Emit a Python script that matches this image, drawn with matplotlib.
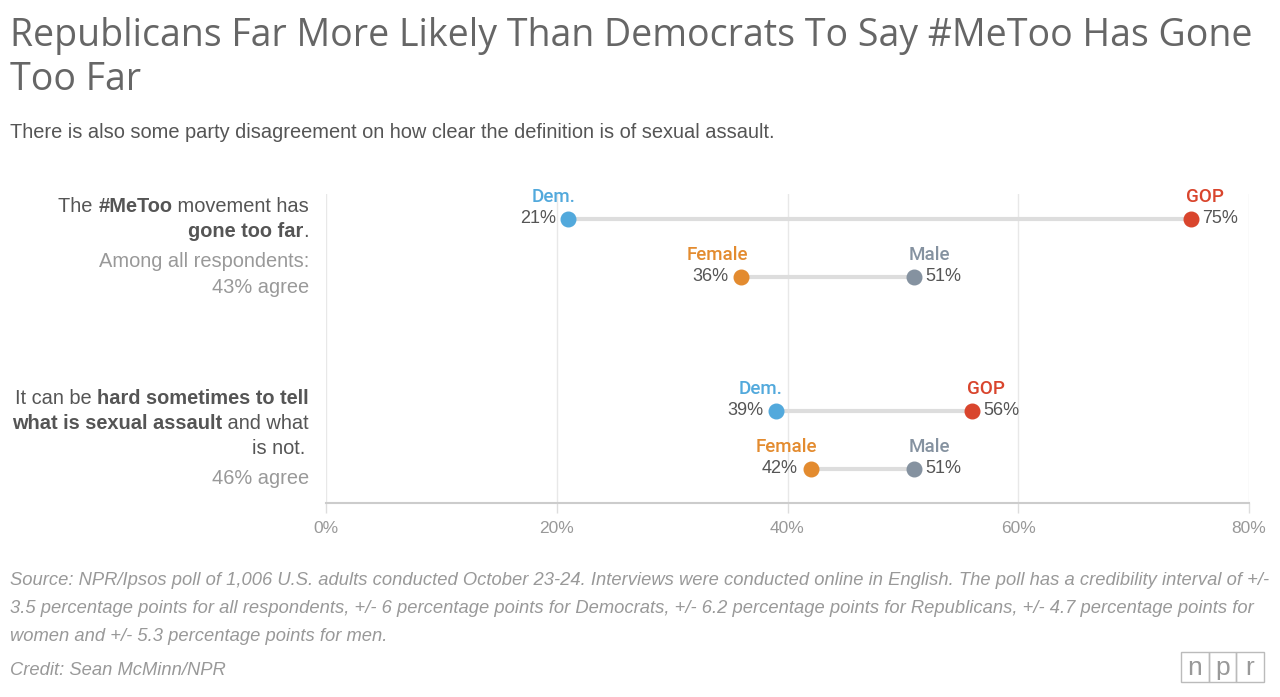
import numpy as np
import matplotlib.pyplot as plt
from matplotlib.patches import Rectangle

# data
row_names = ["Dem./GOP (gone too far)", "Female/Male (gone too far)",
             "Dem./GOP (hard to tell)", "Female/Male (hard to tell)"]
row_pos = [0, 1, 3.31, 4.31]
left_labels = ["Dem.", "Female", "Dem.", "Female"]
right_labels = ["GOP", "Male", "GOP", "Male"]
left_values = [21, 36, 39, 42]
right_values = [75, 51, 56, 51]
left_colors = ["#52a9dc", "#e38b2f", "#52a9dc", "#e38b2f"]
right_colors = ["#d9452d", "#8592a0", "#d9452d", "#8592a0"]
xticks = [0, 20, 40, 60, 80]

W, H = 1280, 697
fig = plt.figure(figsize=(W / 100, H / 100), dpi=100)
fig.patch.set_facecolor("white")

def fx(x):
    return x / W

def fy(y):
    return 1 - y / H

ax = fig.add_axes([fx(326), fy(503), fx(1249) - fx(326), fy(194) - fy(503)])
ax.set_xlim(0, 80)
ax.set_ylim(4.9, -0.43)
for s in ["top", "right", "left"]:
    ax.spines[s].set_visible(False)
ax.spines["bottom"].set_color("#cccccc")
ax.spines["bottom"].set_linewidth(1.5)
ax.set_yticks([])
ax.set_xticks(xticks)
ax.set_xticklabels([f"{t}%" for t in xticks])
ax.tick_params(axis="x", colors="#dddddd", length=7, width=1, labelcolor="#999999",
               labelsize=12.5, pad=6)
for lab in ax.get_xticklabels():
    lab.set_fontfamily("Liberation Sans")
ax.grid(axis="x", color="#e8e8e8", linewidth=1)
ax.set_axisbelow(True)

cond = ["Roboto"]
for y, lv, rv, ll, rl, lc, rc in zip(row_pos, left_values, right_values,
                                      left_labels, right_labels, left_colors, right_colors):
    ax.plot([lv, rv], [y, y], color="#dddddd", linewidth=3, solid_capstyle="butt", zorder=2)
    ax.plot([lv], [y], "o", color=lc, markersize=10.5, zorder=3)
    ax.plot([rv], [y], "o", color=rc, markersize=10.5, zorder=3)
    ax.annotate(f"{lv}%", (lv, y), xytext=(-9, 0), textcoords="offset points",
                ha="right", va="center", fontsize=13, color="#555555",
                fontfamily="Liberation Sans")
    ax.annotate(f"{rv}%", (rv, y), xytext=(8, 0), textcoords="offset points",
                ha="left", va="center", fontsize=13, color="#555555",
                fontfamily="Liberation Sans")
    ax.annotate(ll, (lv, y), xytext=(5, 16), textcoords="offset points",
                ha="right", va="center", fontsize=13.5, color=lc,
                fontfamily=cond, fontweight="medium")
    ax.annotate(rl, (rv, y), xytext=(-4, 16), textcoords="offset points",
                ha="left", va="center", fontsize=13.5, color=rc,
                fontfamily=cond, fontweight="medium")

# titles
fig.text(fx(10), fy(46), "Republicans Far More Likely Than Democrats To Say #MeToo Has Gone",
         fontsize=27, color="#666666", fontfamily="Open Sans", va="baseline")
fig.text(fx(10), fy(90), "Too Far", fontsize=27, color="#666666", fontfamily="Open Sans",
         va="baseline")
fig.text(fx(10), fy(138), "There is also some party disagreement on how clear the definition is of sexual assault.",
         fontsize=14.4, color="#555555", fontfamily="Liberation Sans", va="baseline")

# left side statements with mixed bold
renderer = fig.canvas.get_renderer()

def rich_right(x, y, parts, color):
    for text, weight in reversed(parts):
        t = fig.text(fx(x), fy(y), text, ha="right", va="baseline", fontsize=14.4,
                     color=color, fontweight=weight, fontfamily="Liberation Sans")
        bb = t.get_window_extent(renderer)
        x = bb.x0

dark = "#555555"
light = "#999999"
rich_right(309, 212, [("The ", "normal"), ("#MeToo", "bold"), (" movement has", "normal")], dark)
rich_right(309, 237, [("gone too far", "bold"), (".", "normal")], dark)
rich_right(309, 267, [("Among all respondents:", "normal")], light)
rich_right(309, 293, [("43% agree", "normal")], light)
rich_right(309, 404, [("It can be ", "normal"), ("hard sometimes to tell", "bold")], dark)
rich_right(309, 429, [("what is sexual assault", "bold"), (" and what", "normal")], dark)
rich_right(305, 454, [("is not.", "normal")], dark)
rich_right(309, 484, [("46% agree", "normal")], light)

# footer
footer = [
    "Source: NPR/Ipsos poll of 1,006 U.S. adults conducted October 23-24. Interviews were conducted online in English. The poll has a credibility interval of +/-",
    "3.5 percentage points for all respondents, +/- 6 percentage points for Democrats, +/- 6.2 percentage points for Republicans, +/- 4.7 percentage points for",
    "women and +/- 5.3 percentage points for men.",
]
for i, line in enumerate(footer):
    fig.text(fx(10), fy(585 + 28 * i), line, fontsize=13.2, color="#999999",
             fontstyle="italic", fontfamily="Liberation Sans", va="baseline")
fig.text(fx(10), fy(675), "Credit: Sean McMinn/NPR", fontsize=13.2, color="#999999",
         fontstyle="italic", fontfamily="Liberation Sans", va="baseline")

# npr logo
for i, ch in enumerate("npr"):
    x0 = 1181 + i * 27.5
    fig.patches.append(Rectangle((fx(x0), fy(682)), fx(27.5), 30 / H,
                                 transform=fig.transFigure, fill=False,
                                 edgecolor="#bbbbbb", linewidth=1))
    fig.text(fx(x0 + 13.75), fy(668), ch, ha="center", va="center", fontsize=19,
             color="#999999", fontfamily="Liberation Sans")

fig.savefig("out.png", dpi=100)
